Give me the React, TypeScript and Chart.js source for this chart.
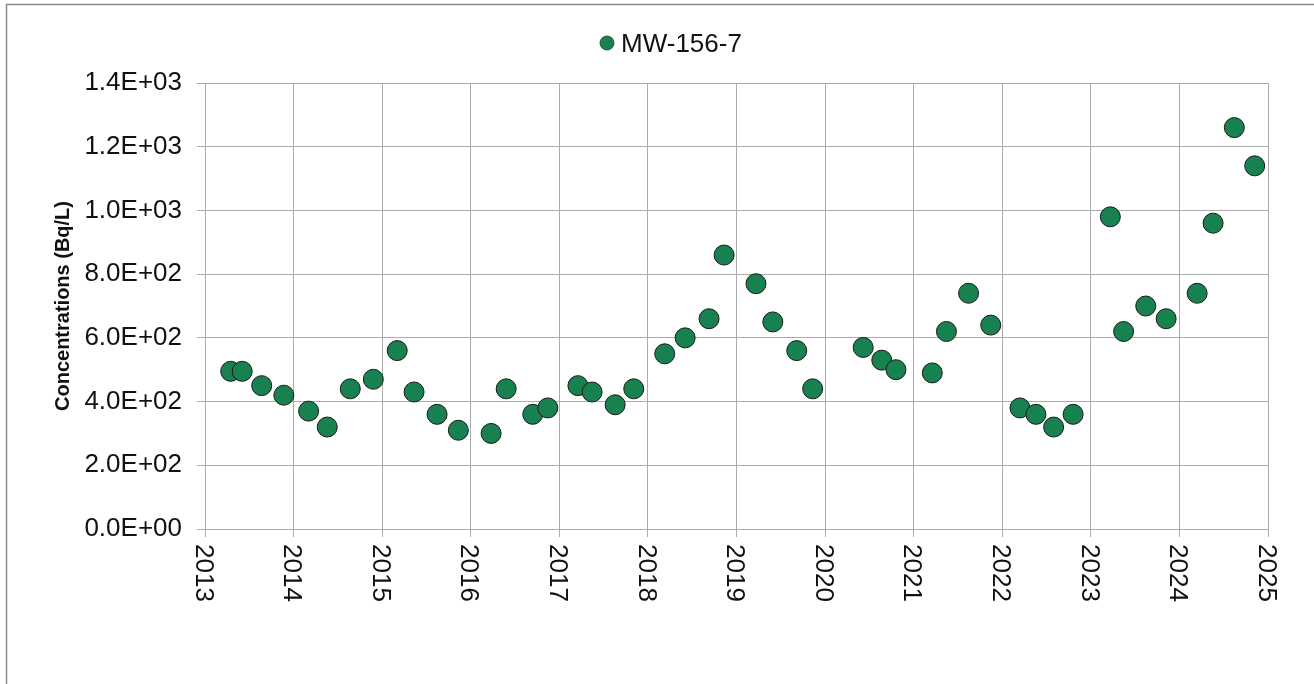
import React, { useEffect, useRef } from "react";
import { Chart, registerables } from "chart.js";

Chart.register(...registerables);

const seriesLabel = "MW-156-7";
const sampleYears = [
  2013.29, 2013.42, 2013.64, 2013.89, 2014.17, 2014.38, 2014.64, 2014.9, 2015.17, 2015.36,
  2015.62, 2015.86, 2016.23, 2016.4, 2016.7, 2016.87, 2017.21, 2017.37, 2017.63, 2017.84,
  2018.19, 2018.42, 2018.69, 2018.86, 2019.22, 2019.41, 2019.68, 2019.86, 2020.43, 2020.64,
  2020.8, 2021.21, 2021.37, 2021.62, 2021.87, 2022.2, 2022.38, 2022.58, 2022.8, 2023.22,
  2023.37, 2023.62, 2023.85, 2024.2, 2024.38, 2024.62, 2024.85,
];
const concentrations = [
  495, 495, 450, 420, 370, 320, 440, 470, 560, 430,
  360, 310, 300, 440, 360, 380, 450, 430, 390, 440,
  550, 600, 660, 860, 770, 650, 560, 440, 570, 530,
  500, 490, 620, 740, 640, 380, 360, 320, 360, 980,
  620, 700, 660, 740, 960, 1260, 1140,
];
const yAxisTitle = "Concentrations (Bq/L)";
const xMin = 2013;
const xMax = 2025;
const yMin = 0;
const yMax = 1400;
const yStep = 200;

const FONT = '"Liberation Sans", Arial, sans-serif';
const FONT_SIZE = 26;
const GREEN = "#178150";
const GRID = "#ababab";
const TEXT = "#111111";

function fmtExp(v: number): string {
  if (v === 0) return "0.0E+00";
  const e = Math.floor(Math.log10(Math.abs(v)) + 1e-9);
  const m = v / Math.pow(10, e);
  const sign = e < 0 ? "-" : "+";
  const ae = Math.abs(e);
  return m.toFixed(1) + "E" + sign + (ae < 10 ? "0" + ae : String(ae));
}

const decorPlugin = {
  id: "decor",
  beforeDraw(chart: any) {
    const ctx = chart.ctx;
    ctx.save();
    ctx.fillStyle = "#ffffff";
    ctx.fillRect(0, 0, chart.width, chart.height);
    ctx.strokeStyle = "#8a8a8a";
    ctx.lineWidth = 1.5;
    ctx.beginPath();
    ctx.moveTo(6.5, chart.height + 5);
    ctx.lineTo(6.5, 4.5);
    ctx.lineTo(chart.width + 5, 4.5);
    ctx.stroke();
    ctx.restore();
  },
  afterDraw(chart: any) {
    const ctx = chart.ctx;
    const xs = chart.scales.x;
    ctx.save();
    ctx.font = FONT_SIZE + "px " + FONT;
    ctx.fillStyle = TEXT;
    ctx.textAlign = "left";
    ctx.textBaseline = "alphabetic";
    for (const t of xs.ticks) {
      const px = xs.getPixelForValue(t.value);
      ctx.save();
      ctx.translate(px, chart.chartArea.bottom + 15);
      ctx.rotate(Math.PI / 2);
      ctx.fillText(String(t.value), 0, FONT_SIZE * 0.358);
      ctx.restore();
    }
    // legend
    const ds = chart.data.datasets[0];
    const cx = 607;
    const cy = 43;
    ctx.beginPath();
    ctx.arc(cx, cy, 7, 0, Math.PI * 2);
    ctx.fillStyle = ds.backgroundColor;
    ctx.fill();
    ctx.lineWidth = 0.8;
    ctx.strokeStyle = "#1d3a2a";
    ctx.stroke();
    ctx.fillStyle = TEXT;
    ctx.font = FONT_SIZE + "px " + FONT;
    ctx.textBaseline = "alphabetic";
    ctx.fillText(ds.label, 621, cy + FONT_SIZE * 0.358);
    ctx.restore();
  },
};

export default function App() {
  const ref = useRef<HTMLCanvasElement | null>(null);
  useEffect(() => {
    if (!ref.current) return;
    const chart = new Chart(ref.current, {
      type: "scatter",
      data: {
        datasets: [
          {
            label: seriesLabel,
            data: sampleYears.map((x, i) => ({ x, y: concentrations[i] })),
            backgroundColor: GREEN,
            borderColor: "#1a1a1a",
            borderWidth: 1,
            pointRadius: 10,
            pointHoverRadius: 10,
          },
        ],
      },
      options: {
        animation: false,
        responsive: false,
        maintainAspectRatio: false,
        events: [],
        layout: { padding: { top: 83, right: 46, bottom: 0, left: 0 } },
        plugins: {
          legend: { display: false },
          tooltip: { enabled: false },
        },
        scales: {
          x: {
            type: "linear",
            min: xMin,
            max: xMax,
            ticks: { display: false, stepSize: 1 },
            grid: { color: GRID, lineWidth: 1, tickLength: 8, drawTicks: true },
            border: { color: GRID, width: 1 },
            afterFit: (s: any) => {
              s.height = 155;
            },
          },
          y: {
            min: yMin,
            max: yMax,
            ticks: {
              stepSize: yStep,
              padding: 15,
              color: TEXT,
              font: { family: FONT, size: FONT_SIZE },
              callback: (v: any) => fmtExp(Number(v)),
            },
            grid: { color: GRID, lineWidth: 1, tickLength: 8 },
            border: { color: GRID, width: 1 },
            title: {
              display: true,
              text: yAxisTitle,
              color: TEXT,
              font: { family: FONT, size: 20, weight: "bold" },
              padding: { top: 51, bottom: 0 },
            },
            afterFit: (s: any) => {
              s.width = 205;
            },
          },
        },
      },
      plugins: [decorPlugin],
    } as any);
    return () => chart.destroy();
  }, []);
  return (
    <div style={{ position: "fixed", left: 0, top: 0, width: 1314, height: 684, background: "#fff" }}>
      <canvas ref={ref} width={1314} height={684} style={{ display: "block", width: 1314, height: 684 }} />
    </div>
  );
}
